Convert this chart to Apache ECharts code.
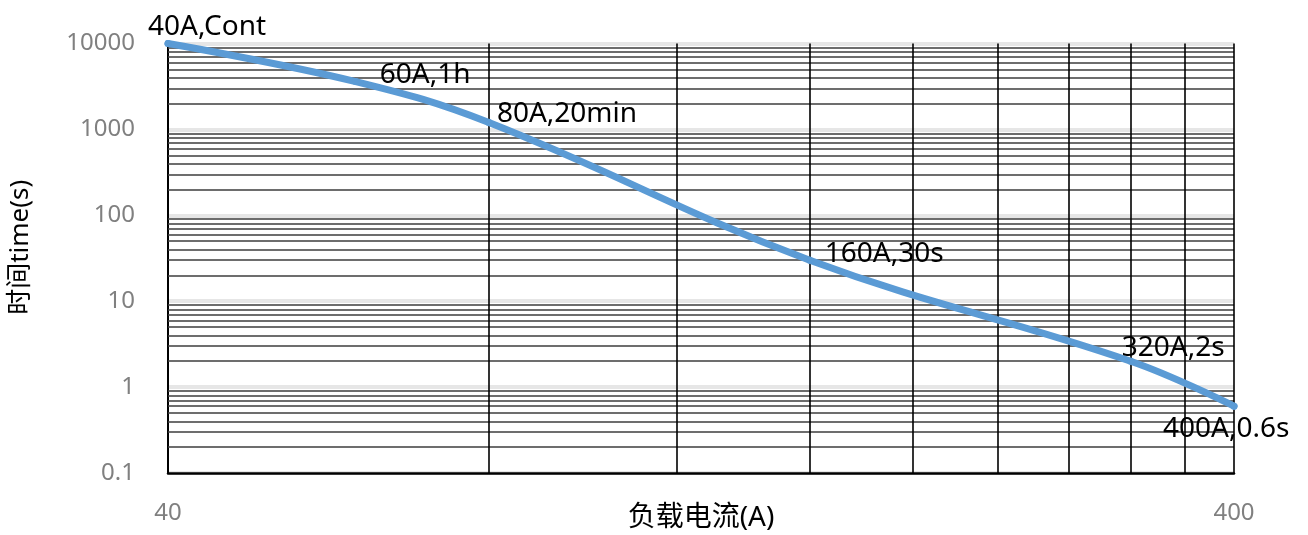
<!DOCTYPE html>
<html>
<head>
<meta charset="utf-8">
<script src="https://cdn.jsdelivr.net/npm/echarts@6/dist/echarts.min.js"></script>
<style>
  html, body { margin: 0; padding: 0; background: #fff; }
  #chart { width: 1308px; height: 535px; }
</style>
</head>
<body>
<div id="chart"></div>
<script>
// Load current (A) versus trip time (s) for the protection curve
const currents = [40, 60, 80, 160, 320, 400];
const times = [10000, 3600, 1200, 30, 2, 0.6];
const pointLabels = ['40A,Cont', '60A,1h', '80A,20min', '160A,30s', '320A,2s', '400A,0.6s'];

// Tick labels and grid line values
const currentTickLabels = [40, 400];
const currentGridLines = [80, 120, 160, 200, 240, 280, 320, 360, 400];
const timeDecades = [0.1, 1, 10, 100, 1000];
const timeMultipliers = [2, 3, 4, 5, 6, 7, 8, 9];

// Label placement relative to each point (px)
const labelOffsets = [[-20, -16], [24, -7], [8, -9], [15, -6], [-9, -13], [-71, 23]];

const FONT = '"Noto Sans", "Noto Sans CJK SC", sans-serif';

const timeGridLines = [];
timeDecades.forEach(d => timeMultipliers.forEach(m => timeGridLines.push(d * m)));

const curveData = currents.map((c, i) => ({
  value: [c, times[i]],
  label: { formatter: pointLabels[i], offset: labelOffsets[i] }
}));

const chart = echarts.init(document.getElementById('chart'), null, { renderer: 'canvas' });

const option = {
  animation: false,
  backgroundColor: '#ffffff',
  grid: { left: 168, right: 74, top: 43.5, bottom: 62, containLabel: false, outerBoundsMode: 'none' },
  xAxis: {
    type: 'log',
    logBase: 10,
    min: 40,
    max: 400,
    name: '负载电流(A)',
    nameLocation: 'middle',
    nameGap: 31,
    nameMoveOverlap: false,
    nameTextStyle: { fontFamily: FONT, fontSize: 28, color: '#000' },
    axisLine: { show: true, lineStyle: { color: '#000', width: 2.5 } },
    axisTick: { show: false },
    splitLine: { show: false },
    axisLabel: {
      fontFamily: FONT, fontSize: 24, color: '#808080', margin: 28,
      showMinLabel: true, showMaxLabel: true,
      formatter: v => currentTickLabels.some(t => Math.abs(t - v) < 1e-6 * t) ? String(Math.round(v)) : ''
    }
  },
  yAxis: {
    type: 'log',
    logBase: 10,
    min: 0.1,
    max: 10000,
    name: '时间time(s)',
    nameLocation: 'middle',
    nameGap: 134,
    nameMoveOverlap: false,
    nameTextStyle: { fontFamily: FONT, fontSize: 26, color: '#000', padding: [0, 0, 0, 22] },
    axisLine: { show: true, lineStyle: { color: '#000', width: 2 } },
    axisTick: { show: false },
    splitLine: { show: true, lineStyle: { color: '#e6e6e6', width: 4 } },
    axisLabel: {
      fontFamily: FONT, fontSize: 24, color: '#808080', margin: 33,
      formatter: v => (v < 1 ? v.toFixed(1) : String(Math.round(v)))
    }
  },
  series: [
    {
      // Minor grid: time multiples and current steps
      type: 'line',
      data: [],
      z: 1,
      silent: true,
      markLine: {
        silent: true,
        symbol: ['none', 'none'],
        label: { show: false },
        emphasis: { disabled: true },
        animation: false,
        data: [
          ...timeGridLines.map(v => ({ yAxis: v, lineStyle: { color: '#3c3c3c', width: 1.5, type: 'solid' } })),
          ...currentGridLines.map(v => ({ xAxis: v, lineStyle: { color: '#000', width: 1.6, type: 'solid' } }))
        ]
      }
    },
    {
      type: 'line',
      data: curveData,
      z: 5,
      smooth: 0.4,
      symbol: 'circle',
      symbolSize: 7,
      showSymbol: true,
      itemStyle: { color: '#5b9bd5' },
      lineStyle: { color: '#5b9bd5', width: 7, cap: 'round' },
      label: {
        show: true,
        position: 'inside',
        align: 'left',
        verticalAlign: 'middle',
        fontFamily: FONT,
        fontSize: 28,
        color: '#000'
      },
      emphasis: { disabled: true }
    }
  ]
};

chart.setOption(option);
</script>
</body>
</html>
